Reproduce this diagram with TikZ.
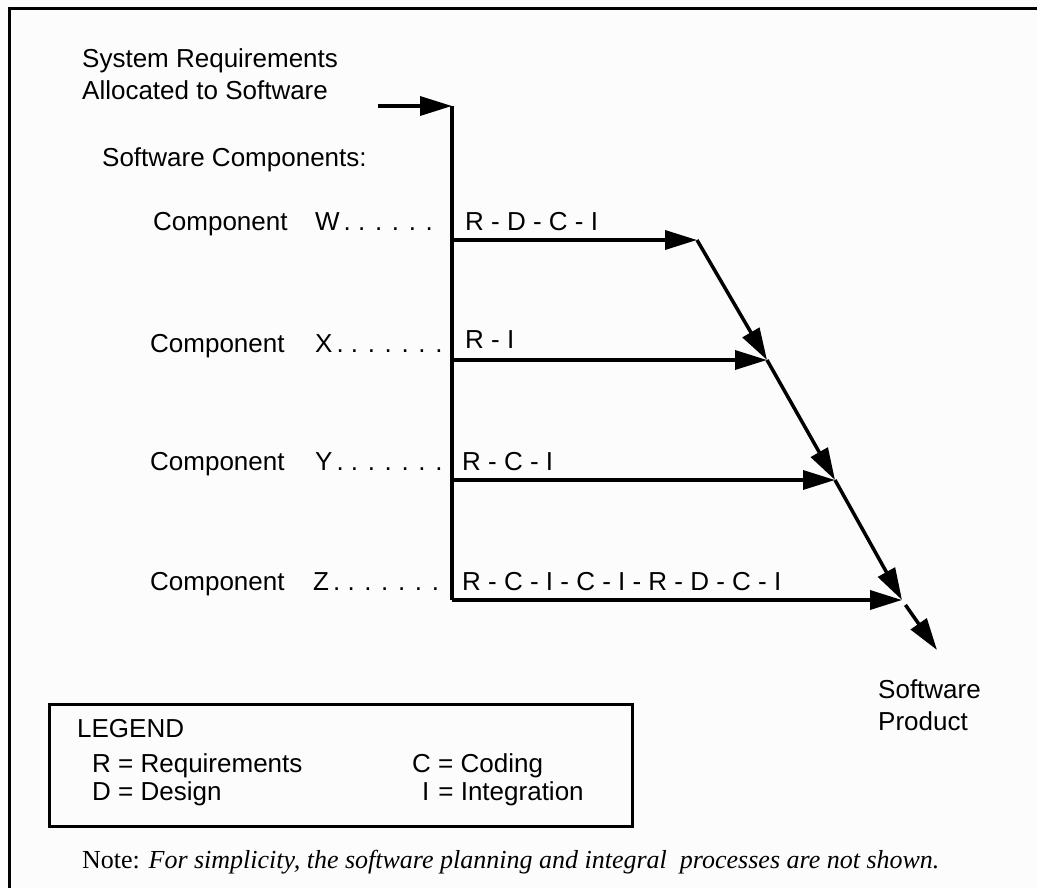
\documentclass[tikz,border=0pt]{standalone}
\usepackage{fontspec}
\setmainfont{Liberation Sans}
\newfontfamily\notefont{Liberation Serif}
\usetikzlibrary{arrows.meta}
\definecolor{paper}{RGB}{252,252,252}

\begin{document}
\begin{tikzpicture}[x=1pt,y=-1pt,
  lbl/.style={anchor=base west, inner sep=0pt, font=\fontsize{26}{30}\selectfont},
  leg/.style={anchor=base west, inner sep=0pt, font=\fontsize{26}{30}\selectfont},
  wire/.style={line width=3.5pt},
  flow/.style={wire, -{Triangle[length=32pt,width=19pt]}},
  frameline/.style={line width=3pt},
]
\fill[paper] (0,0) rectangle (1037,888);
\useasboundingbox (0,0) rectangle (1037,888);

% outer frame (top and left edges)
\draw[frameline] (9,888) -- (9,9) -- (1037,9);

% headings
\node[lbl] (sys1) at (82,68) {System Requirements};
\node[lbl] (sys2) at (82,100) {Allocated to Software};
\node[lbl] (swc) at (102,167) {Software Components:};

% component rows
\node[lbl] (cW) at (153,230) {Component};
\node[lbl] (lW) at (315,230) {W\hspace{4pt}. . . . . .};
\node[lbl] (cX) at (150,352) {Component};
\node[lbl] (lX) at (315,352) {X\hspace{4pt}. . . . . . .};
\node[lbl] (cY) at (150,470) {Component};
\node[lbl] (lY) at (315,470) {Y\hspace{4pt}. . . . . . .};
\node[lbl] (cZ) at (150,590) {Component};
\node[lbl] (lZ) at (313,590) {Z\hspace{4pt}. . . . . . .};

% activity sequences
\node[lbl] (sW) at (465,230) {R - D - C - I};
\node[lbl] (sX) at (465,348) {R - I};
\node[lbl] (sY) at (462,470) {R - C - I};
\node[lbl] (sZ) at (462,590) {R - C - I - C - I - R - D - C - I};

% points of the flow
\coordinate (in)   at (378,106);
\coordinate (vtop) at (452,106);
\coordinate (vbot) at (452,600);
\coordinate (bW) at (452,240);
\coordinate (bX) at (452,360);
\coordinate (bY) at (452,480);
\coordinate (jW) at (697,240);
\coordinate (jX) at (767,360);
\coordinate (jY) at (835,480);
\coordinate (jZ) at (902,600);
\coordinate (out) at (937,650);

% backbone and branches
\draw[wire] (vtop) -- (vbot);
\draw[flow] (in) -- (vtop);
\draw[flow] (bW) -- (jW);
\draw[flow] (bX) -- (jX);
\draw[flow] (bY) -- (jY);
\draw[flow] (vbot) -- (jZ);

% integration chain
\draw[flow] (jW) -- (jX);
\draw[flow] (jX) -- (jY);
\draw[flow] (jY) -- (jZ);
\draw[flow, shorten <=6pt] (jZ) -- (out);

\node[lbl] (prod1) at (878,698) {Software};
\node[lbl] (prod2) at (878,730) {Product};

% legend
\node[draw, line width=2.5pt, minimum width=583pt, minimum height=122pt,
      anchor=north west, inner sep=0pt] (legend) at (48,703) {};
\node[leg] (legT) at (77,737) {LEGEND};
\node[leg] (legR) at (92,772) {R = Requirements};
\node[leg] (legD) at (92,800) {D = Design};
\node[leg] (legC) at (412,772) {C = Coding};
\node[leg] (legI) at (422,800) {I\hspace{9pt}= Integration};

% note
\node[anchor=base west, inner sep=0pt, font=\notefont\fontsize{26}{30}\selectfont]
  (note) at (82,868) {Note: \itshape For simplicity, the software planning and integral\ \ processes are not shown.};
\end{tikzpicture}
\end{document}
